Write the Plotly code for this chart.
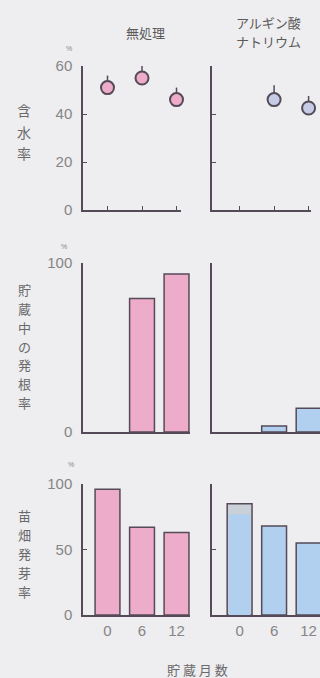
import plotly.graph_objects as go

# ---------------- data ----------------
months = ["0", "6", "12"]

# 含水率 (%)  — 無処理 / アルギン酸ナトリウム
water_ctrl = [51, 55, 46]
water_ctrl_err = [5, 6, 5]
water_alg = [None, 46, 42.5]
water_alg_err = [0, 6, 5]

# 貯蔵中の発根率 (%)
root_ctrl = [None, 79, 93.5]
root_alg = [None, 3.5, 14]

# 苗畑発芽率 (%)
germ_ctrl = [96, 67, 63]
germ_alg = [85, 68, 55]          # bar totals (outlined)
germ_alg_lower = [77, None, None]  # blue lower part of the 0-month bar

col_titles = ["無処理", "アルギン酸", "ナトリウム"]
row_labels = ["含水率", "貯蔵中の発根率", "苗畑発芽率"]
x_title = "貯 蔵 月 数"

# ---------------- styling ----------------
W, H = 320, 678
BG = "#eeedf0"
PINK = "#eeaccb"
BLUE = "#b1cfee"
GREY_TOP = "#c9d0d8"
DARK = "#554a58"
TXT = "#858585"
FONT = "Liberation Sans Narrow, Liberation Sans"
CJK = "Noto Sans CJK JP"


def fx(px):
    return px / W


def fy(px):
    return 1 - px / H


fig = go.Figure()

# pixel layout of panels
rows = [(66, 210), (263, 432), (484, 615)]
yranges = [[0, 60], [0, 100], [0, 100]]
ytickvals = [[0, 20, 40, 60], [0, 100], [0, 50, 100]]
xdom = {
    (0, 0): (83, 181, [-0.71, 2.13]),
    (0, 1): (212, 311, [-0.8, 2.07]),
    (1, 0): (83, 190, [-0.71, 2.39]),
    (1, 1): (212, 320, [-0.8, 2.33]),
    (2, 0): (83, 190, [-0.71, 2.39]),
    (2, 1): (212, 320, [-0.8, 2.33]),
}

layout_axes = {}
idx = 0
axis_ids = {}
for r in range(3):
    for c in range(2):
        idx += 1
        axis_ids[(r, c)] = idx
        x0, x1, xr = xdom[(r, c)]
        y0, y1 = rows[r]
        xa = dict(
            domain=[fx(x0), fx(x1)], range=xr, type="category",
            categoryorder="array", categoryarray=months, automargin=False,
            anchor=f"y{idx}", showline=True, linecolor=DARK, linewidth=1.5,
            showgrid=False, zeroline=False,
            ticks="inside" if r == 0 else "", ticklen=4, tickcolor=DARK,
            showticklabels=(r == 2),
            tickfont=dict(family=FONT, size=15, color=TXT),
            ticklabelstandoff=1,
        )
        ya = dict(
            domain=[fy(y1), fy(y0)], range=yranges[r], automargin=False,
            anchor=f"x{idx}", showline=True, linecolor=DARK, linewidth=1.5,
            showgrid=False, zeroline=False,
            tickvals=ytickvals[r], ticks="inside", ticklen=4, tickcolor=DARK,
            showticklabels=(c == 0),
            tickfont=dict(family=FONT, size=15, color=TXT),
            ticklabelstandoff=6,
        )
        layout_axes["xaxis" if idx == 1 else f"xaxis{idx}"] = xa
        layout_axes["yaxis" if idx == 1 else f"yaxis{idx}"] = ya


def ax(r, c):
    i = axis_ids[(r, c)]
    return ("x" if i == 1 else f"x{i}"), ("y" if i == 1 else f"y{i}")


# row 1: scatter with upward error bars
for c, (vals, errs, fill) in enumerate([(water_ctrl, water_ctrl_err, PINK),
                                          (water_alg, water_alg_err, "#c6cbe6")]):
    xa_, ya_ = ax(0, c)
    fig.add_trace(go.Scatter(
        x=months, y=vals, mode="markers", xaxis=xa_, yaxis=ya_,
        marker=dict(size=13, color=fill, line=dict(color=DARK, width=2)),
        error_y=dict(type="data", array=errs, arrayminus=[0] * 3,
                     symmetric=False, color=DARK, thickness=1.5, width=0),
        cliponaxis=False, showlegend=False,
    ))

BW = 0.72
# row 2 bars
for c, (vals, fill) in enumerate([(root_ctrl, PINK), (root_alg, BLUE)]):
    xa_, ya_ = ax(1, c)
    fig.add_trace(go.Bar(
        x=months, y=vals, xaxis=xa_, yaxis=ya_, width=BW,
        marker=dict(color=fill, line=dict(color=DARK, width=1.5)),
        showlegend=False,
    ))

# row 3 bars
xa_, ya_ = ax(2, 0)
fig.add_trace(go.Bar(
    x=months, y=germ_ctrl, xaxis=xa_, yaxis=ya_, width=BW,
    marker=dict(color=PINK, line=dict(color=DARK, width=1.5)),
    showlegend=False,
))
xa_, ya_ = ax(2, 1)
fig.add_trace(go.Bar(
    x=months, y=germ_alg, xaxis=xa_, yaxis=ya_, width=BW,
    marker=dict(color=[GREY_TOP, BLUE, BLUE], line=dict(color=DARK, width=1.5)),
    showlegend=False,
))
fig.add_trace(go.Bar(
    x=months, y=germ_alg_lower, xaxis=xa_, yaxis=ya_, width=BW - 0.09,
    marker=dict(color=BLUE, line=dict(width=0)),
    showlegend=False,
))

annotations = []


def note(text, px_x, px_y, size, color, family=CJK, xanchor="center", align="center"):
    annotations.append(dict(text=text, x=fx(px_x), y=fy(px_y), xref="paper", yref="paper",
                            xanchor=xanchor, yanchor="middle", align=align, showarrow=False,
                            font=dict(family=family, size=size, color=color)))


# column titles
note(col_titles[0], 145, 33, 13, "#5a5a5a")
note(col_titles[1], 234, 23, 13, "#5a5a5a", xanchor="left", align="left")
note(col_titles[2], 234, 41, 13, "#5a5a5a", xanchor="left", align="left")

# vertical row labels (one character per line)
label_pos = [(110, 21.5, 14), (290, 18.7, 13), (515, 19.2, 13)]
for lab, (ystart, step, sz) in zip(row_labels, label_pos):
    for k, ch in enumerate(lab):
        note(ch, 24, ystart + k * step, sz, "#6a6a6a")

# % marks
for (px_x, px_y) in [(69, 49), (64, 246), (71, 465)]:
    note("%", px_x, px_y, 7, TXT, family="Liberation Sans")

# x title
note(x_title, 197, 669, 13, "#6a6a6a")

fig.update_layout(
    width=W, height=H, margin=dict(l=0, r=0, t=0, b=0),
    paper_bgcolor=BG, plot_bgcolor=BG, barmode="overlay",
    showlegend=False, annotations=annotations, **layout_axes,
)

fig.write_html("out.html", config={"displayModeBar": False})
